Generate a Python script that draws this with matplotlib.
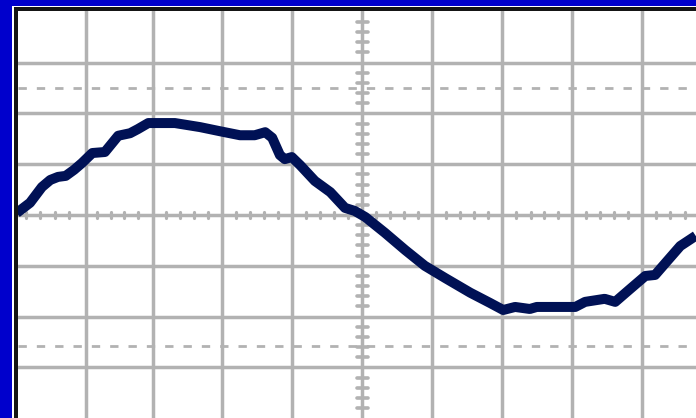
import numpy as np
import matplotlib.pyplot as plt
from matplotlib.patches import Rectangle

# trace, in divisions (x: time/div, y: volts/div)
t = [-4.94, -4.75, -4.58, -4.46, -4.35, -4.24, -4.12, -4.01, -3.86, -3.68,
     -3.49, -3.32, -3.21, -3.06, -2.68, -2.32, -2.04, -1.75, -1.54, -1.39,
     -1.29, -1.18, -1.11, -1.01, -0.89, -0.68, -0.46, -0.25, -0.11, 0.04,
     0.32, 0.61, 0.89, 1.18, 1.54, 1.82, 2.01, 2.18, 2.39, 2.49,
     3.04, 3.18, 3.46, 3.61, 3.82, 4.04, 4.18, 4.35, 4.54, 4.76]
v = [0.04, 0.24, 0.55, 0.69, 0.75, 0.77, 0.89, 1.02, 1.22, 1.24,
     1.56, 1.61, 1.69, 1.81, 1.81, 1.73, 1.65, 1.57, 1.57, 1.63,
     1.52, 1.18, 1.10, 1.14, 0.98, 0.67, 0.45, 0.14, 0.08, -0.04,
     -0.35, -0.69, -1.00, -1.24, -1.53, -1.73, -1.87, -1.81, -1.85, -1.81,
     -1.81, -1.71, -1.65, -1.71, -1.46, -1.20, -1.18, -0.91, -0.61, -0.41]

# graticule
grid_x = [-3.95, -3, -2, -1, 0, 1, 2, 3, 4]
grid_y = [-3, -2, -1, 0, 1, 2, 3]
dash_y = [2.5, -2.58]

W, H = 696, 418
fig = plt.figure(figsize=(W / 100, H / 100), dpi=100, facecolor='#0000CC')

# bezel: thin white edge, then black frame
fig.patches.append(Rectangle((12 / W, 0), 1, (H - 6) / H, transform=fig.transFigure,
                             facecolor='white', edgecolor='none', zorder=-2))
fig.patches.append(Rectangle((14 / W, 0), 1, (H - 7) / H, transform=fig.transFigure,
                             facecolor='#151515', edgecolor='none', zorder=-1))

ax = fig.add_axes([18 / W, 0, (W - 18) / W, (H - 11) / H])
ax.set_zorder(1)
ax.set_facecolor('white')
ax.set_xlim((18 - 362.5) / 70, (W - 362.5) / 70)
ax.set_ylim((215 - H) / 50.8, (215 - 11) / 50.8)
for s in ax.spines.values():
    s.set_visible(False)
ax.set_xticks([])
ax.set_yticks([])

gray = '#B2B2B2'
for gx in grid_x:
    ax.axvline(gx, color=gray, lw=2.5, zorder=1)
for gy in grid_y:
    ax.axhline(gy, color=gray, lw=2.5, zorder=1)
for dy in dash_y:
    ax.axhline(dy, color=gray, lw=2.0, ls=(0, (3.0, 3.6)), zorder=1)

# small ticks on the centre lines, every 1/5 division
minor_x = np.array([k * 0.2 for k in range(-25, 25) if k % 5 != 0])
minor_y = np.array([k * 0.2 for k in range(-20, 21) if k % 5 != 0])
ax.vlines(minor_x, -0.06, 0.06, color=gray, lw=2.3, capstyle='round', zorder=1)
ax.hlines(minor_y, -0.085, 0.085, color=gray, lw=2.6, capstyle='round', zorder=1)

ax.plot(t, v, color='#001155', lw=7.2, solid_joinstyle='round', solid_capstyle='butt', zorder=3)

fig.savefig('out.png', dpi=100, facecolor=fig.get_facecolor())
